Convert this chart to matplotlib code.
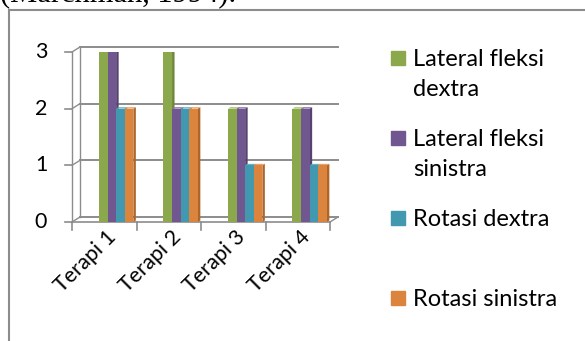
import matplotlib
matplotlib.use("Agg")
import matplotlib.pyplot as plt
from matplotlib.patches import Polygon, Rectangle
from matplotlib.lines import Line2D
import numpy as np

categories = ["Terapi 1", "Terapi 2", "Terapi 3", "Terapi 4"]
series_names = ["Lateral fleksi\ndextra", "Lateral fleksi\nsinistra", "Rotasi dextra", "Rotasi sinistra"]
lat_dextra = [3, 3, 2, 2]
lat_sinistra = [3, 2, 2, 2]
rot_dextra = [2, 2, 1, 1]
rot_sinistra = [2, 2, 1, 1]
y_ticks = [0, 1, 2, 3]

series = [lat_dextra, lat_sinistra, rot_dextra, rot_sinistra]
colors = ["#8BA84D", "#71578F", "#4298AF", "#DB843D"]
side_colors = ["#6E873A", "#56416F", "#2F7A8D", "#B06528"]
top_colors = ["#A9C46C", "#8D74AB", "#64B3C9", "#EDA062"]

W, H = 585, 341
fig = plt.figure(figsize=(W / 100, H / 100), dpi=100)
FONT = "Lato"

def fx(px):
    return px / W

def fy(py):
    return 1 - py / H

# outer frame
fig.add_artist(Line2D([fx(9), fx(9)], [fy(10), 0], color="#8c8c8c", lw=1.5, transform=fig.transFigure))
fig.add_artist(Line2D([fx(9), 1], [fy(10), fy(10)], color="#8c8c8c", lw=1.5, transform=fig.transFigure))
fig.text(fx(0), fy(1.5), "(Marchman, 1994).", family="Liberation Serif", fontsize=22, va="baseline", ha="left")

# axes (front plane): y=0 at 222px, y=3 at 52px; x from 72 to 330
x0, x1 = 72, 330
yb, yt = 222, 52
ax = fig.add_axes([fx(x0), fy(yb), (x1 - x0) / W, (yb - yt) / H])
ax.set_xlim(-0.5, 3.5)
ax.set_ylim(0, 3)
ax.axis("off")

ppx = (x1 - x0) / 4.0          # pixels per category unit
ppy = (yb - yt) / 3.0          # pixels per value unit
dx, dy = 8 / ppx, 5 / ppy      # depth offset (in data units)

grid_c = "#8c8c8c"
for v in y_ticks:
    ax.plot([-0.5 + dx, 3.5 + dx], [v + dy, v + dy], color=grid_c, lw=1.4, clip_on=False, zorder=1)
    ax.plot([-0.5, -0.5 + dx], [v, v + dy], color=grid_c, lw=1.0, clip_on=False, zorder=1)
    ax.plot([-0.5 - 7 / ppx, -0.5], [v, v], color=grid_c, lw=1.2, clip_on=False, zorder=1)
    ax.text(-0.5 - 31 / ppx, v, str(v), ha="center", va="center", fontsize=15.5, family=FONT)
ax.plot([-0.5, -0.5], [0, 3], color=grid_c, lw=1.0, clip_on=False, zorder=1)
ax.plot([-0.5 + dx, -0.5 + dx], [dy, 3 + dy], color=grid_c, lw=1.0, clip_on=False, zorder=1)
ax.plot([-0.5, 3.5], [0, 0], color=grid_c, lw=1.2, clip_on=False, zorder=1)
ax.plot([3.5, 3.5 + dx], [0, dy], color=grid_c, lw=1.0, clip_on=False, zorder=1)
for k in range(5):
    ax.plot([-0.5 + k, -0.5 + k], [0, -8 / ppy], color=grid_c, lw=1.2, clip_on=False, zorder=1)

# bars
bw = 8.6 / ppx
start = -5.3 / ppx
sdx, sdy = 2.5 / ppx, 1.5 / ppy
for i, (vals, c) in enumerate(zip(series, colors)):
    xs = np.arange(len(categories)) + start + i * bw
    ax.bar(xs, vals, width=bw, align="edge", color=c, zorder=3)
    for xl, v in zip(xs, vals):
        side = Polygon([[xl + bw, 0], [xl + bw + sdx, sdy], [xl + bw + sdx, v + sdy], [xl + bw, v]],
                       closed=True, color=side_colors[i], zorder=2.5 + i * 0.01, lw=0)
        top = Polygon([[xl, v], [xl + sdx, v + sdy], [xl + bw + sdx, v + sdy], [xl + bw, v]],
                      closed=True, color=top_colors[i], zorder=2.6 + i * 0.01, lw=0)
        ax.add_patch(side)
        ax.add_patch(top)

# category labels
for k, name in enumerate(categories):
    ax.text(k + 9 / ppx, -12 / ppy, name, rotation=45, rotation_mode="anchor",
            ha="right", va="center", fontsize=15.5, family=FONT)

# legend
leg_y = [58, 138, 218, 298]
for name, c, y in zip(series_names, colors, leg_y):
    fig.add_artist(Rectangle((fx(391), fy(y + 7)), 14 / W, 14 / H, color=c, transform=fig.transFigure))
    for j, ln in enumerate(name.split("\n")):
        fig.text(fx(413), fy(y + 1 + 31 * j), ln, ha="left", va="center", fontsize=17, family=FONT)

fig.savefig("out.png", dpi=100)
